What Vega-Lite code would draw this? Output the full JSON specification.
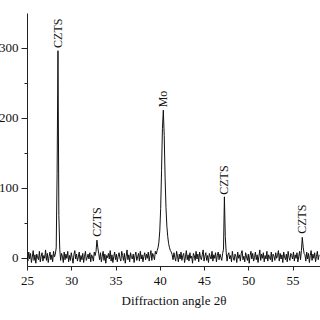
{
  "$schema": "https://vega.github.io/schema/vega-lite/v6.json",
  "autosize": "none",
  "width": 293,
  "height": 253,
  "padding": {"left": 27, "top": 13, "right": 0, "bottom": 54},
  "background": "white",
  "config": {
    "view": {"stroke": null},
    "font": "Liberation Serif",
    "axis": {"labelFont": "Liberation Serif", "titleFont": "Liberation Serif", "labelFontSize": 13, "titleFontSize": 13, "titleFontWeight": "normal", "labelColor": "#111", "titleColor": "#111", "domainColor": "#222", "tickColor": "#222", "grid": false}
  },
  "datasets": {
    "xrd": [
      {"x":25.0,"y":3},{"x":25.1,"y":-5},{"x":25.2,"y":8},{"x":25.3,"y":-2},{"x":25.4,"y":6},{"x":25.5,"y":-7},{"x":25.6,"y":1},{"x":25.7,"y":10},{"x":25.8,"y":-4},{"x":25.9,"y":4},
      {"x":26.0,"y":-8},{"x":26.1,"y":5},{"x":26.2,"y":0},{"x":26.3,"y":-3},{"x":26.4,"y":9},{"x":26.5,"y":-6},{"x":26.6,"y":2},{"x":26.7,"y":7},{"x":26.8,"y":-5},{"x":26.9,"y":3},
      {"x":27.0,"y":-1},{"x":27.1,"y":11},{"x":27.2,"y":-4},{"x":27.3,"y":6},{"x":27.4,"y":-7},{"x":27.5,"y":2},{"x":27.6,"y":8},{"x":27.7,"y":-3},{"x":27.8,"y":4},{"x":27.9,"y":-6},
      {"x":28.0,"y":9},{"x":28.1,"y":1},{"x":28.2,"y":5},
      {"x":28.3,"y":14},{"x":28.4,"y":120},{"x":28.5,"y":296},{"x":28.6,"y":60},{"x":28.7,"y":12},
      {"x":28.8,"y":-4},{"x":28.9,"y":6},{"x":29.0,"y":2},{"x":29.1,"y":-7},{"x":29.2,"y":8},{"x":29.3,"y":-3},{"x":29.4,"y":5},{"x":29.5,"y":-1},{"x":29.6,"y":9},{"x":29.7,"y":-6},
      {"x":29.8,"y":3},{"x":29.9,"y":-4},{"x":30.0,"y":7},{"x":30.1,"y":0},{"x":30.2,"y":-8},{"x":30.3,"y":4},{"x":30.4,"y":10},{"x":30.5,"y":-2},{"x":30.6,"y":5},{"x":30.7,"y":-5},
      {"x":30.8,"y":1},{"x":30.9,"y":8},{"x":31.0,"y":-6},{"x":31.1,"y":3},{"x":31.2,"y":-3},{"x":31.3,"y":6},{"x":31.4,"y":-7},{"x":31.5,"y":2},{"x":31.6,"y":9},{"x":31.7,"y":-4},
      {"x":31.8,"y":0},{"x":31.9,"y":5},{"x":32.0,"y":-2},{"x":32.1,"y":7},{"x":32.2,"y":-6},{"x":32.3,"y":4},{"x":32.4,"y":1},{"x":32.5,"y":-5},{"x":32.6,"y":8},{"x":32.7,"y":3},
      {"x":32.8,"y":9},{"x":32.9,"y":25},{"x":33.0,"y":14},{"x":33.1,"y":6},
      {"x":33.2,"y":-3},{"x":33.3,"y":7},{"x":33.4,"y":-6},{"x":33.5,"y":2},{"x":33.6,"y":9},{"x":33.7,"y":-4},{"x":33.8,"y":5},{"x":33.9,"y":-8},{"x":34.0,"y":3},{"x":34.1,"y":0},
      {"x":34.2,"y":6},{"x":34.3,"y":-2},{"x":34.4,"y":10},{"x":34.5,"y":-5},{"x":34.6,"y":4},{"x":34.7,"y":-7},{"x":34.8,"y":1},{"x":34.9,"y":8},{"x":35.0,"y":-3},{"x":35.1,"y":5},
      {"x":35.2,"y":-6},{"x":35.3,"y":2},{"x":35.4,"y":7},{"x":35.5,"y":-1},{"x":35.6,"y":-5},{"x":35.7,"y":9},{"x":35.8,"y":3},{"x":35.9,"y":-4},{"x":36.0,"y":6},{"x":36.1,"y":-8},
      {"x":36.2,"y":2},{"x":36.3,"y":11},{"x":36.4,"y":-3},{"x":36.5,"y":4},{"x":36.6,"y":-6},{"x":36.7,"y":7},{"x":36.8,"y":0},{"x":36.9,"y":-2},{"x":37.0,"y":5},{"x":37.1,"y":-7},
      {"x":37.2,"y":3},{"x":37.3,"y":8},{"x":37.4,"y":-4},{"x":37.5,"y":1},{"x":37.6,"y":6},{"x":37.7,"y":-5},{"x":37.8,"y":9},{"x":37.9,"y":-2},{"x":38.0,"y":4},{"x":38.1,"y":-6},
      {"x":38.2,"y":2},{"x":38.3,"y":7},{"x":38.4,"y":-3},{"x":38.5,"y":5},{"x":38.6,"y":-1},{"x":38.7,"y":8},{"x":38.8,"y":-5},{"x":38.9,"y":3},{"x":39.0,"y":10},{"x":39.1,"y":-4},
      {"x":39.2,"y":6},{"x":39.3,"y":2},{"x":39.4,"y":-3},{"x":39.5,"y":9},{"x":39.6,"y":5},
      {"x":39.7,"y":10},{"x":39.8,"y":14},{"x":39.9,"y":22},{"x":40.0,"y":38},{"x":40.1,"y":70},{"x":40.2,"y":125},{"x":40.3,"y":185},{"x":40.4,"y":211},{"x":40.5,"y":175},{"x":40.6,"y":115},
      {"x":40.7,"y":72},{"x":40.8,"y":45},{"x":40.9,"y":30},{"x":41.0,"y":20},{"x":41.1,"y":14},{"x":41.2,"y":10},{"x":41.3,"y":8},
      {"x":41.4,"y":4},{"x":41.5,"y":-3},{"x":41.6,"y":7},{"x":41.7,"y":0},{"x":41.8,"y":-5},{"x":41.9,"y":9},{"x":42.0,"y":2},{"x":42.1,"y":-6},{"x":42.2,"y":5},{"x":42.3,"y":-2},
      {"x":42.4,"y":8},{"x":42.5,"y":-4},{"x":42.6,"y":3},{"x":42.7,"y":6},{"x":42.8,"y":-7},{"x":42.9,"y":1},{"x":43.0,"y":10},{"x":43.1,"y":-3},{"x":43.2,"y":4},{"x":43.3,"y":-5},
      {"x":43.4,"y":7},{"x":43.5,"y":-1},{"x":43.6,"y":2},{"x":43.7,"y":-8},{"x":43.8,"y":6},{"x":43.9,"y":3},{"x":44.0,"y":-4},{"x":44.1,"y":9},{"x":44.2,"y":-2},{"x":44.3,"y":5},
      {"x":44.4,"y":-6},{"x":44.5,"y":8},{"x":44.6,"y":0},{"x":44.7,"y":-3},{"x":44.8,"y":4},{"x":44.9,"y":11},{"x":45.0,"y":-5},{"x":45.1,"y":2},{"x":45.2,"y":7},{"x":45.3,"y":-4},
      {"x":45.4,"y":3},{"x":45.5,"y":-7},{"x":45.6,"y":6},{"x":45.7,"y":1},{"x":45.8,"y":-2},{"x":45.9,"y":9},{"x":46.0,"y":-5},{"x":46.1,"y":4},{"x":46.2,"y":-1},{"x":46.3,"y":7},
      {"x":46.4,"y":-6},{"x":46.5,"y":3},{"x":46.6,"y":8},{"x":46.7,"y":-3},{"x":46.8,"y":5},{"x":46.9,"y":0},{"x":47.0,"y":-4},{"x":47.1,"y":6},
      {"x":47.2,"y":12},{"x":47.3,"y":87},{"x":47.4,"y":30},{"x":47.5,"y":8},
      {"x":47.6,"y":-5},{"x":47.7,"y":4},{"x":47.8,"y":7},{"x":47.9,"y":-2},{"x":48.0,"y":3},{"x":48.1,"y":-6},{"x":48.2,"y":9},{"x":48.3,"y":0},{"x":48.4,"y":-4},{"x":48.5,"y":5},
      {"x":48.6,"y":2},{"x":48.7,"y":-7},{"x":48.8,"y":8},{"x":48.9,"y":-1},{"x":49.0,"y":4},{"x":49.1,"y":-5},{"x":49.2,"y":6},{"x":49.3,"y":10},{"x":49.4,"y":-3},{"x":49.5,"y":2},
      {"x":49.6,"y":-6},{"x":49.7,"y":7},{"x":49.8,"y":1},{"x":49.9,"y":-4},{"x":50.0,"y":5},{"x":50.1,"y":-8},{"x":50.2,"y":3},{"x":50.3,"y":9},{"x":50.4,"y":-2},{"x":50.5,"y":6},
      {"x":50.6,"y":-5},{"x":50.7,"y":0},{"x":50.8,"y":8},{"x":50.9,"y":-3},{"x":51.0,"y":4},{"x":51.1,"y":-7},{"x":51.2,"y":2},{"x":51.3,"y":11},{"x":51.4,"y":-4},{"x":51.5,"y":5},
      {"x":51.6,"y":-1},{"x":51.7,"y":7},{"x":51.8,"y":-6},{"x":51.9,"y":3},{"x":52.0,"y":-2},{"x":52.1,"y":9},{"x":52.2,"y":-5},{"x":52.3,"y":4},{"x":52.4,"y":0},{"x":52.5,"y":-3},
      {"x":52.6,"y":8},{"x":52.7,"y":-6},{"x":52.8,"y":5},{"x":52.9,"y":2},{"x":53.0,"y":-4},{"x":53.1,"y":7},{"x":53.2,"y":-1},{"x":53.3,"y":3},{"x":53.4,"y":10},{"x":53.5,"y":-5},
      {"x":53.6,"y":6},{"x":53.7,"y":-2},{"x":53.8,"y":4},{"x":53.9,"y":-7},{"x":54.0,"y":8},{"x":54.1,"y":1},{"x":54.2,"y":-3},{"x":54.3,"y":5},{"x":54.4,"y":-6},{"x":54.5,"y":9},
      {"x":54.6,"y":0},{"x":54.7,"y":-4},{"x":54.8,"y":6},{"x":54.9,"y":3},{"x":55.0,"y":-2},{"x":55.1,"y":8},{"x":55.2,"y":-5},{"x":55.3,"y":4},{"x":55.4,"y":-1},{"x":55.5,"y":7},
      {"x":55.6,"y":-6},{"x":55.7,"y":2},{"x":55.8,"y":9},{"x":55.9,"y":-3},
      {"x":56.0,"y":10},{"x":56.1,"y":29},{"x":56.2,"y":15},{"x":56.3,"y":6},
      {"x":56.4,"y":4},{"x":56.5,"y":-5},{"x":56.6,"y":8},{"x":56.7,"y":-2},{"x":56.8,"y":6},{"x":56.9,"y":-7},{"x":57.0,"y":3},{"x":57.1,"y":10},{"x":57.2,"y":-4},{"x":57.3,"y":5},
      {"x":57.4,"y":-1},{"x":57.5,"y":7},{"x":57.6,"y":-6},{"x":57.7,"y":2},{"x":57.8,"y":9},{"x":57.9,"y":-3},{"x":58.0,"y":4}
    ],
    "peaks": [
      {"x":28.5,"y":300,"t":"CZTS"},
      {"x":32.9,"y":30,"t":"CZTS"},
      {"x":40.4,"y":215,"t":"Mo"},
      {"x":47.3,"y":90,"t":"CZTS"},
      {"x":56.1,"y":34,"t":"CZTS"}
    ]
  },
  "layer": [
    {
      "data": {"name": "xrd"},
      "mark": {"type": "line", "color": "#111", "strokeWidth": 1, "clip": true},
      "encoding": {
        "x": {"field": "x", "type": "quantitative", "scale": {"domain": [25, 58.1], "nice": false, "zero": false},
          "axis": {"title": "Diffraction angle 2θ", "values": [25,27.5,30,32.5,35,37.5,40,42.5,45,47.5,50,52.5,55,57.5],
            "labelExpr": "datum.value % 5 === 0 ? datum.label : ''",
            "tickSize": {"condition": {"test": "datum.value % 5 === 0", "value": 4}, "value": 2},
            "labelPadding": 4, "titlePadding": 7, "labelFlush": false, "labelOverlap": false}},
        "y": {"field": "y", "type": "quantitative", "scale": {"domain": [-12, 350], "nice": false, "zero": false},
          "axis": {"title": null, "values": [0,50,100,150,200,250,300],
            "labelExpr": "datum.value % 100 === 0 ? datum.label : ''",
            "tickSize": {"condition": {"test": "datum.value % 100 === 0", "value": 6}, "value": 3},
            "labelPadding": 3, "labelFlush": false, "labelOverlap": false}}
      }
    },
    {
      "data": {"name": "peaks"},
      "mark": {"type": "text", "angle": 270, "align": "left", "baseline": "middle", "font": "Liberation Serif", "fontSize": 12, "color": "#111"},
      "encoding": {
        "x": {"field": "x", "type": "quantitative"},
        "y": {"field": "y", "type": "quantitative"},
        "text": {"field": "t"}
      }
    }
  ]
}
